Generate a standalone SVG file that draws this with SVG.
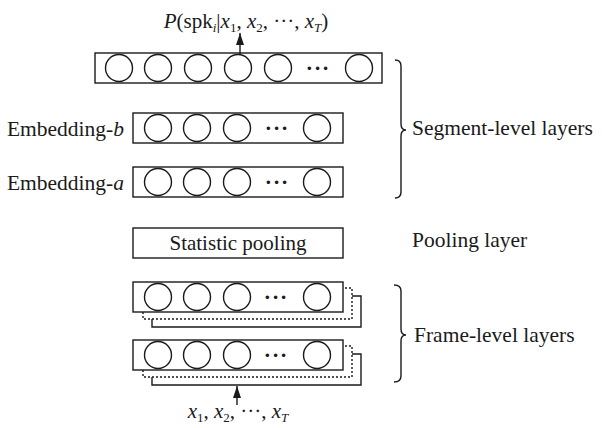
<svg xmlns="http://www.w3.org/2000/svg" width="602" height="428" viewBox="0 0 602 428">
<defs>
<style>
text{font-family:"Liberation Serif","Times New Roman",serif;font-size:21.5px;fill:#1a1a1a}
.box{fill:#fff;stroke:#1a1a1a;stroke-width:1.4}
.n{fill:#fff;stroke:#1a1a1a;stroke-width:1.4}
.dots{text-anchor:middle;letter-spacing:1px;font-weight:bold}
.dash{fill:none;stroke:#1a1a1a;stroke-width:1.4;stroke-dasharray:2 2}
.sol{fill:none;stroke:#1a1a1a;stroke-width:1.4}
.br{fill:none;stroke:#1a1a1a;stroke-width:1.4}
.it{font-style:italic}
.sub{font-size:13px}
</style>
<marker id="ah" viewBox="0 0 12 8" refX="12" refY="4" markerWidth="12" markerHeight="8" markerUnits="userSpaceOnUse" orient="auto">
<path d="M0,0 L12,4 L0,8 Z" fill="#1a1a1a"/>
</marker>
</defs>

<g id="output-label">
<text x="246" y="28" text-anchor="middle" style="font-size:21px"><tspan class="it">P</tspan>(spk<tspan class="it sub" dy="4">i</tspan><tspan dy="-4">|</tspan><tspan class="it">x</tspan><tspan class="sub" dy="4">1</tspan><tspan dy="-4">, </tspan><tspan class="it">x</tspan><tspan class="sub" dy="4">2</tspan><tspan dy="-4">, ···, </tspan><tspan class="it">x</tspan><tspan class="it sub" dy="4">T</tspan><tspan dy="-4">)</tspan></text>
</g>

<g id="softmax-layer">
<rect class="box" x="95" y="53" width="287" height="30"/>
<circle class="n" cx="119" cy="68" r="13.5"/>
<circle class="n" cx="158" cy="68" r="13.5"/>
<circle class="n" cx="198" cy="68" r="13.5"/>
<circle class="n" cx="238" cy="68" r="13.5"/>
<circle class="n" cx="278" cy="68" r="13.5"/>
<text class="dots" x="318" y="75">···</text>
<circle class="n" cx="359" cy="68" r="13.5"/>
</g>

<g id="embedding-b">
<text x="124" y="136" text-anchor="end">Embedding-<tspan class="it">b</tspan></text>
<rect class="box" x="133" y="113" width="210" height="30"/>
<circle class="n" cx="158" cy="128" r="13.5"/>
<circle class="n" cx="197" cy="128" r="13.5"/>
<circle class="n" cx="237" cy="128" r="13.5"/>
<text class="dots" x="277" y="135">···</text>
<circle class="n" cx="317" cy="128" r="13.5"/>
</g>

<g id="embedding-a">
<text x="124" y="190" text-anchor="end">Embedding-<tspan class="it">a</tspan></text>
<rect class="box" x="133" y="167" width="210" height="30"/>
<circle class="n" cx="158" cy="182" r="13.5"/>
<circle class="n" cx="197" cy="182" r="13.5"/>
<circle class="n" cx="237" cy="182" r="13.5"/>
<text class="dots" x="277" y="189">···</text>
<circle class="n" cx="317" cy="182" r="13.5"/>
</g>

<g id="statistic-pooling">
<rect class="box" x="133" y="228" width="210" height="30"/>
<text x="238" y="250" text-anchor="middle" style="font-size:21px">Statistic pooling</text>
</g>

<g id="frame-layer-1">
<path class="sol" d="M152,319 V327 H361 V296 H352"/>
<path class="dash" d="M143,312 V319 H352 V288 H343"/>
<rect class="box" x="133" y="282" width="210" height="30"/>
<circle class="n" cx="158" cy="297" r="13.5"/>
<circle class="n" cx="197" cy="297" r="13.5"/>
<circle class="n" cx="237" cy="297" r="13.5"/>
<text class="dots" x="276" y="304">···</text>
<circle class="n" cx="317" cy="297" r="13.5"/>
</g>

<g id="frame-layer-2">
<path class="sol" d="M152,377 V385 H361 V354 H352"/>
<path class="dash" d="M143,370 V377 H352 V346 H343"/>
<rect class="box" x="133" y="340" width="210" height="30"/>
<circle class="n" cx="158" cy="355" r="13.5"/>
<circle class="n" cx="197" cy="355" r="13.5"/>
<circle class="n" cx="237" cy="355" r="13.5"/>
<text class="dots" x="276" y="362">···</text>
<circle class="n" cx="317" cy="355" r="13.5"/>
</g>

<g id="input-label">
<text x="238" y="418" text-anchor="middle" style="font-size:21px"><tspan class="it">x</tspan><tspan class="sub" dy="4">1</tspan><tspan dy="-4">, </tspan><tspan class="it">x</tspan><tspan class="sub" dy="4">2</tspan><tspan dy="-4">, ···, </tspan><tspan class="it">x</tspan><tspan class="it sub" dy="4">T</tspan></text>
</g>

<g id="segment-bracket">
<path class="br" d="M395,60 Q401,60 401,66 V124 Q401,130 406,130 Q401,130 401,136 V192 Q401,198 395,198"/>
<text x="412" y="135">Segment-level layers</text>
</g>

<g id="pooling-label">
<text x="412" y="247">Pooling layer</text>
</g>

<g id="frame-bracket">
<path class="br" d="M394,285 Q401,285 401,291 V329 Q401,335 406,335 Q401,335 401,341 V376 Q401,382 394,382"/>
<text x="414" y="342">Frame-level layers</text>
</g>

<g id="connectors">
<line class="sol" x1="240" y1="54.5" x2="240" y2="33" marker-end="url(#ah)"/>
<line class="sol" x1="237" y1="405" x2="237" y2="386" marker-end="url(#ah)"/>
</g>
</svg>
